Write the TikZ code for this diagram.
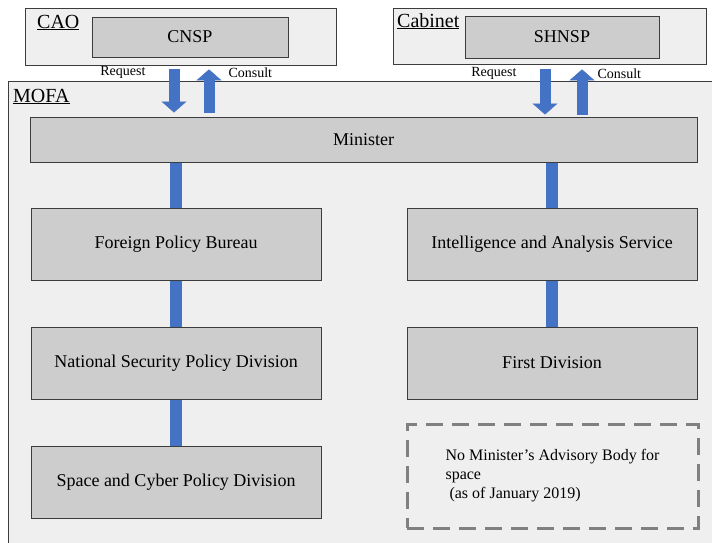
\documentclass[tikz,border=0pt]{standalone}
\usepackage{fontspec}
\setmainfont{Liberation Serif}
\usetikzlibrary{arrows.meta}

\definecolor{panelgray}{HTML}{EFEFEF}
\definecolor{boxgray}{HTML}{CDCDCD}
\definecolor{linegray}{HTML}{3C3C3C}
\definecolor{barblue}{HTML}{4472C4}
\definecolor{dashgray}{HTML}{808080}

\tikzset{
  panel/.style={draw=linegray, fill=panelgray, line width=0.8pt, inner sep=0pt},
  unit/.style={draw=linegray, fill=boxgray, line width=1pt, inner sep=0pt,
    font=\fontsize{18}{21}\selectfont},
  tag/.style={inner sep=0pt, font=\fontsize{20}{24}\selectfont},
  cue/.style={inner sep=0pt, font=\fontsize{14}{16}\selectfont},
  link/.style={draw=barblue, line width=12pt},
  blockarrow/.style={draw=barblue, line width=11pt,
    -{Triangle[width=25pt, length=11pt, line width=0.5pt]}},
  note/.style={draw=dashgray, line width=3pt, dash pattern=on 17pt off 9pt,
    inner sep=0pt, align=left, font=\fontsize{16}{19}\selectfont}
}

\begin{document}
\begin{tikzpicture}[x=1pt, y=-1pt]
  \path[use as bounding box, fill=white] (0,0) rectangle (712,542);
  \clip (0,0) rectangle (712,542);

  % Outer bodies
  \node[panel, minimum width=311pt, minimum height=57pt] (cao) at (180.5,36.5) {};
  \node[panel, minimum width=313pt, minimum height=56pt] (cab) at (549.5,36) {};
  \node[panel, minimum width=730pt, minimum height=480pt, anchor=north west] (mofa) at (8,81) {};

  % Body labels
  \node[tag, anchor=base west] (caotag) at (37,28) {\underline{CAO}};
  \node[tag, anchor=base west] (cabtag) at (397,27) {\underline{Cabinet}};
  \node[tag, anchor=base west] (mofatag) at (13,102) {\underline{MOFA}};

  % Councils
  \node[unit, minimum width=196pt, minimum height=40pt] (cnsp) at (190,37) {CNSP};
  \node[unit, minimum width=194pt, minimum height=42pt] (shnsp) at (562,37) {SHNSP};

  % MOFA units
  \node[unit, minimum width=667pt, minimum height=45pt] (minister) at (363.5,139.5) {Minister};
  \node[unit, minimum width=290pt, minimum height=72pt] (fpb) at (176,244) {Foreign Policy Bureau};
  \node[unit, minimum width=290pt, minimum height=72pt] (ias) at (552,244) {Intelligence and Analysis Service};
  \node[unit, minimum width=290pt, minimum height=72pt] (nspd) at (176,363) {National Security Policy Division};
  \node[unit, minimum width=290pt, minimum height=72pt] (fd) at (552,363) {First Division};
  \node[unit, minimum width=290pt, minimum height=72pt] (scpd) at (176,482) {Space and Cyber Policy Division};
  \node[note, minimum width=291pt, minimum height=104pt] (nobody) at (552.5,476)
    {No Minister’s Advisory Body for\\space\\\hspace*{4pt}(as of January 2019)\hspace*{-6pt}};

  % Links
  \draw[link] (minister.south -| fpb) -- (fpb.north);
  \draw[link] (fpb.south) -- (nspd.north);
  \draw[link] (nspd.south) -- (scpd.north);
  \draw[link] (minister.south -| ias) -- (ias.north);
  \draw[link] (ias.south) -- (fd.north);

  % Request / Consult
  \coordinate (caodown) at ([xshift=-16pt]cnsp.south);
  \coordinate (caoup) at ([xshift=19pt]cnsp.south);
  \coordinate (cabdown) at ([xshift=-17pt]shnsp.south);
  \coordinate (cabup) at ([xshift=20pt]shnsp.south);
  \draw[blockarrow, shorten <=4pt, shorten >=4pt] (caodown |- cao.south) -- (caodown |- minister.north)
    node[cue, pos=0.14, left=23pt] (caoreq) {Request};
  \draw[blockarrow, shorten <=4pt, shorten >=4pt] (caoup |- minister.north) -- (caoup |- cao.south)
    node[cue, pos=0.86, right=14pt] (caocon) {Consult};
  \draw[blockarrow, shorten <=5pt, shorten >=2pt] (cabdown |- cab.south) -- (cabdown |- minister.north)
    node[cue, pos=0.18, left=23pt] (cabreq) {Request};
  \draw[blockarrow, shorten <=2pt, shorten >=5pt] (cabup |- minister.north) -- (cabup |- cab.south)
    node[cue, pos=0.82, right=10pt] (cabcon) {Consult};
\end{tikzpicture}
\end{document}
